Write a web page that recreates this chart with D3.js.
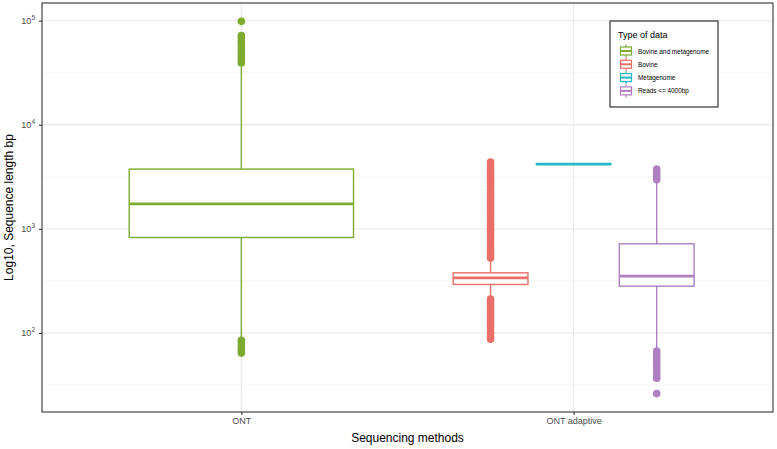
<!DOCTYPE html>
<html lang="en">

<head>
    <meta charset="UTF-8">
    <script src="https://d3js.org/d3.v7.min.js"></script>
    <title>Sequence length by sequencing method</title>
    <style>
        body { margin: 0; background: white; }
        text { font-family: "Liberation Sans", Arial, sans-serif; }
    </style>
</head>

<body>
    <script type="text/javascript">

        // categories
        const methods = ["ONT", "ONT adaptive"];
        const dataTypes = ["Bovine and metagenome", "Bovine", "Metagenome", "Reads <= 4000bp"];
        const typeColors = ["#7cab2f", "#eb6e68", "#24b8c6", "#af80c1"];

        // box statistics, one entry per type (bp)
        const boxMethod = ["ONT", "ONT adaptive", "ONT adaptive", "ONT adaptive"];
        const lowerWhisker = [89, 221, 4170, 70];
        const q1 = [826, 292, 4170, 281];
        const median = [1740, 338, 4190, 351];
        const q3 = [3750, 378, 4210, 718];
        const upperWhisker = [36300, 508, 4260, 2880];

        // outliers
        const outliersBovineMeta = [39200, 41500, 44000, 47000, 50000, 53500, 57000, 61000, 65000, 69000, 72000, 98600,
            85, 80, 75, 70, 67, 64];
        const outliersBovine = [525, 560, 600, 640, 685, 730, 780, 835, 890, 950, 1015, 1085, 1160, 1240, 1325, 1415,
            1510, 1615, 1725, 1840, 1965, 2100, 2245, 2400, 2560, 2735, 2920, 3120, 3330, 3560, 3800, 4060, 4375,
            212, 198, 185, 173, 162, 151, 141, 132, 123, 115, 107, 100, 93, 87];
        const outliersMeta = [];
        const outliersShort = [2970, 3150, 3350, 3550, 3750,
            67, 63, 59, 55, 51.5, 48, 45, 42, 39, 36.6, 26.1];
        const outliers = [outliersBovineMeta, outliersBovine, outliersMeta, outliersShort];

        const yTicks = [1e2, 1e3, 1e4, 1e5];
        const yMinor = [Math.pow(10, 1.5), Math.pow(10, 2.5), Math.pow(10, 3.5), Math.pow(10, 4.5)];

        const w = 777;
        const h = 449;
        const pLeft = 42, pRight = 773, pTop = 3, pBottom = 412;
        const textGrey = "#4d4d4d";

        const svg = d3.select("body")
            .append("svg")
            .attr("width", w)
            .attr("height", h);

        const xScale = d3.scalePoint()
            .domain(methods)
            .range([pLeft, pRight])
            .padding(0.6);

        const yScale = d3.scaleLog()
            .domain([Math.pow(10, 1.24), Math.pow(10, 5.17)])
            .range([pBottom, pTop]);

        // group boxes inside each method (dodge)
        const boxes = dataTypes.map((t, i) => ({
            type: t, color: typeColors[i], method: boxMethod[i],
            lo: lowerWhisker[i], q1: q1[i], med: median[i], q3: q3[i], hi: upperWhisker[i],
            out: outliers[i]
        }));
        const slotWidth = 0.75 * xScale.step();
        methods.forEach(m => {
            const grp = boxes.filter(b => b.method === m);
            const each = slotWidth / grp.length;
            grp.forEach((b, j) => {
                b.cx = xScale(m) - slotWidth / 2 + each * (j + 0.5);
                b.bw = each * 0.9;
            });
        });

        // grid
        const grid = svg.append("g");
        grid.selectAll(".minor").data(yMinor).enter().append("line")
            .attr("x1", pLeft).attr("x2", pRight)
            .attr("y1", d => yScale(d)).attr("y2", d => yScale(d))
            .style("stroke", "#f2f2f2").style("stroke-width", 0.7);
        grid.selectAll(".major").data(yTicks).enter().append("line")
            .attr("x1", pLeft).attr("x2", pRight)
            .attr("y1", d => yScale(d)).attr("y2", d => yScale(d))
            .style("stroke", "#ebebeb").style("stroke-width", 1.3);
        grid.selectAll(".vmajor").data(methods).enter().append("line")
            .attr("x1", d => xScale(d)).attr("x2", d => xScale(d))
            .attr("y1", pTop).attr("y2", pBottom)
            .style("stroke", "#ebebeb").style("stroke-width", 1.3);

        // boxplots
        const bx = svg.selectAll(".box").data(boxes).enter().append("g");

        bx.append("line")
            .attr("x1", d => d.cx).attr("x2", d => d.cx)
            .attr("y1", d => yScale(d.q3)).attr("y2", d => yScale(d.hi))
            .style("stroke", d => d.color).style("stroke-width", 1.4);
        bx.append("line")
            .attr("x1", d => d.cx).attr("x2", d => d.cx)
            .attr("y1", d => yScale(d.q1)).attr("y2", d => yScale(d.lo))
            .style("stroke", d => d.color).style("stroke-width", 1.4);
        bx.append("rect")
            .attr("x", d => d.cx - d.bw / 2)
            .attr("width", d => d.bw)
            .attr("y", d => yScale(d.q3))
            .attr("height", d => yScale(d.q1) - yScale(d.q3))
            .style("fill", "white")
            .style("stroke", d => d.color).style("stroke-width", 1.4);
        bx.append("line")
            .attr("x1", d => d.cx - d.bw / 2).attr("x2", d => d.cx + d.bw / 2)
            .attr("y1", d => yScale(d.med)).attr("y2", d => yScale(d.med))
            .style("stroke", d => d.color).style("stroke-width", 2.8);

        bx.selectAll("circle")
            .data(d => d.out.map(v => ({ v: v, cx: d.cx, color: d.color })))
            .enter().append("circle")
            .attr("cx", d => d.cx)
            .attr("cy", d => yScale(d.v))
            .attr("r", 3.8)
            .style("fill", d => d.color);

        // panel border
        svg.append("rect")
            .attr("x", pLeft).attr("y", pTop)
            .attr("width", pRight - pLeft).attr("height", pBottom - pTop)
            .style("fill", "none").style("stroke", "#333333").style("stroke-width", 1.1);

        // axes
        const yAxis = svg.append("g")
            .attr("transform", "translate(" + pLeft + ",0)")
            .call(d3.axisLeft(yScale).tickValues(yTicks).tickSize(3).tickFormat(""));
        yAxis.select(".domain").remove();
        yAxis.selectAll(".tick line").style("stroke", "#333333").style("stroke-width", 1.1);
        yAxis.selectAll(".tick text").remove();
        yTicks.forEach(t => {
            const lab = svg.append("text")
                .attr("x", pLeft - 7)
                .attr("y", yScale(t) + 3)
                .attr("text-anchor", "end")
                .style("font-size", "9px")
                .style("fill", textGrey);
            lab.append("tspan").text("10");
            lab.append("tspan").attr("dy", -4).style("font-size", "6.5px").text(Math.round(Math.log10(t)));
        });

        const xAxis = svg.append("g")
            .attr("transform", "translate(0," + pBottom + ")")
            .call(d3.axisBottom(xScale).tickSize(3).tickPadding(3));
        xAxis.select(".domain").remove();
        xAxis.selectAll(".tick line").style("stroke", "#333333").style("stroke-width", 1.1);
        xAxis.selectAll(".tick text")
            .style("font-size", "9px")
            .style("fill", textGrey)
            .style("font-family", "Liberation Sans, Arial, sans-serif");

        // axis titles
        svg.append("text")
            .attr("x", (pLeft + pRight) / 2)
            .attr("y", 442)
            .attr("text-anchor", "middle")
            .style("font-size", "12px")
            .text("Sequencing methods");

        svg.append("text")
            .attr("transform", "rotate(-90)")
            .attr("x", -(pTop + pBottom) / 2)
            .attr("y", 13)
            .attr("text-anchor", "middle")
            .style("font-size", "12px")
            .text("Log10, Sequence length bp");

        // legend
        const legend = svg.append("g").attr("id", "legend");
        legend.append("rect")
            .attr("x", 610).attr("y", 21)
            .attr("width", 108).attr("height", 86)
            .style("fill", "white").style("stroke", "#222222").style("stroke-width", 1.1);
        legend.append("text")
            .attr("x", 618).attr("y", 38)
            .style("font-size", "9px")
            .text("Type of data");

        const keys = legend.selectAll(".key").data(boxes).enter().append("g")
            .attr("transform", (d, i) => "translate(626," + (51 + i * 13.3) + ")");
        keys.append("line")
            .attr("y1", -6.5).attr("y2", 6.5)
            .style("stroke", d => d.color).style("stroke-width", 1.2);
        keys.append("rect")
            .attr("x", -5.5).attr("y", -4)
            .attr("width", 11).attr("height", 8)
            .style("fill", "white")
            .style("stroke", d => d.color).style("stroke-width", 1.2);
        keys.append("line")
            .attr("x1", -5.5).attr("x2", 5.5)
            .style("stroke", d => d.color).style("stroke-width", 2);
        keys.append("text")
            .attr("x", 12).attr("y", 2.5)
            .style("font-size", "6.4px")
            .text(d => d.type);

    </script>
</body>

</html>
